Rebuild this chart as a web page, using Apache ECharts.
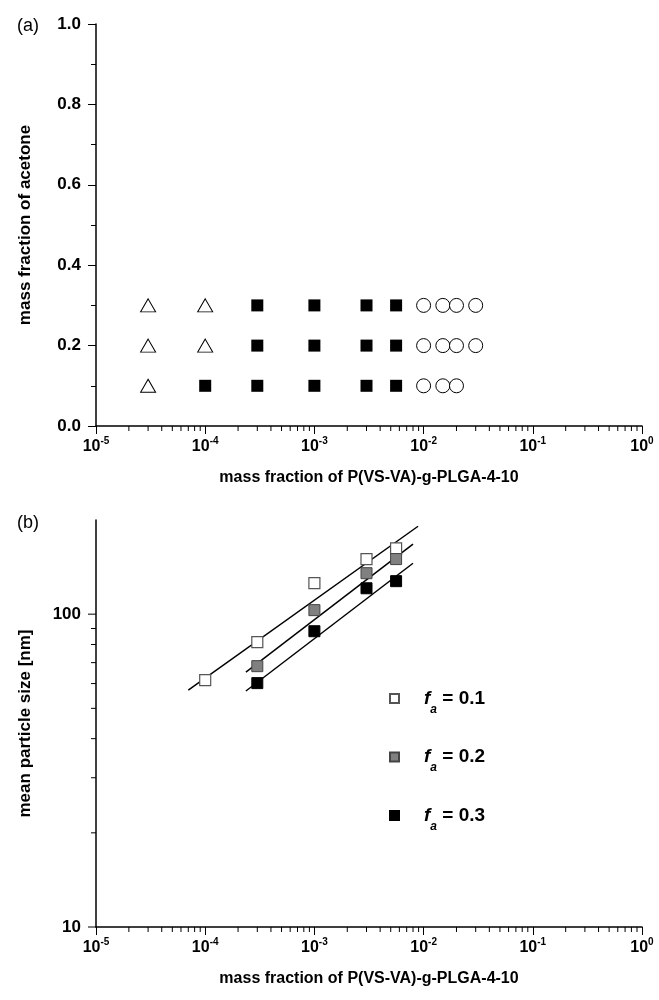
<!DOCTYPE html>
<html>
<head>
<meta charset="utf-8">
<script src="https://cdn.jsdelivr.net/npm/echarts@6/dist/echarts.min.js"></script>
<style>
  html, body { margin: 0; padding: 0; background: #fff; }
  #chart { width: 659px; height: 1000px; }
</style>
</head>
<body>
<div id="chart"></div>
<script>
// panel (a): phase map, [mass fraction polymer, mass fraction acetone]
const trianglePts = [[3e-5, 0.1], [3e-5, 0.2], [1e-4, 0.2], [3e-5, 0.3], [1e-4, 0.3]];
const squarePts = [
  [1e-4, 0.1], [3e-4, 0.1], [1e-3, 0.1], [3e-3, 0.1], [5.6e-3, 0.1],
  [3e-4, 0.2], [1e-3, 0.2], [3e-3, 0.2], [5.6e-3, 0.2],
  [3e-4, 0.3], [1e-3, 0.3], [3e-3, 0.3], [5.6e-3, 0.3]
];
const circlePts = [
  [1e-2, 0.1], [1.5e-2, 0.1], [2e-2, 0.1],
  [1e-2, 0.2], [1.5e-2, 0.2], [2e-2, 0.2], [3e-2, 0.2],
  [1e-2, 0.3], [1.5e-2, 0.3], [2e-2, 0.3], [3e-2, 0.3]
];

// panel (b): mean particle size [nm]
const massFa01 = [1e-4, 3e-4, 1e-3, 3e-3, 5.6e-3];
const size01 = [61.5, 81.4, 125.6, 149.9, 162.4];
const massFa = [3e-4, 1e-3, 3e-3, 5.6e-3];
const size02 = [68.2, 103, 135.2, 150];
const size03 = [60.2, 88.2, 121, 127.5];

// fitted lines (end points)
const fitX01 = [7e-5, 8.9e-3];
const fitY01 = [57.2, 191];
const fitX = [2.36e-4, 8.0e-3];
const fitY02 = [65.3, 167.4];
const fitY03 = [56.8, 145.5];

const legendNames = ['0.1', '0.2', '0.3'];

// log axis tick values
const minorX = [];
for (let d = -5; d < 0; d++) for (let k = 2; k <= 9; k++) minorX.push(k * Math.pow(10, d));
const majorY = [10, 100];
const minorY = [20, 30, 40, 50, 60, 70, 80, 90];

const FONT = 'Liberation Sans';
const zip = (xs, ys) => xs.map((x, i) => [x, ys[i]]);

const chart = echarts.init(document.getElementById('chart'));

const axisLine = { lineStyle: { color: '#000', width: 1.5 } };
const logLabel = {
  color: '#000',
  margin: 10,
  formatter: v => '{b|10}{s|' + Math.round(Math.log10(v)) + '}',
  rich: {
    b: { fontFamily: FONT, fontWeight: 'bold', fontSize: 16, lineHeight: 22, color: '#000' },
    s: { fontFamily: FONT, fontWeight: 'bold', fontSize: 10, lineHeight: 10, verticalAlign: 'top', color: '#000' }
  }
};
const nameStyle = { fontFamily: FONT, fontWeight: 'bold', fontSize: 16, color: '#000' };

function tickSeries(xi, yi, pts, vertical, len) {
  return {
    type: 'custom',
    xAxisIndex: xi,
    yAxisIndex: yi,
    silent: true,
    data: pts,
    renderItem: (params, api) => {
      const p = api.coord([api.value(0), api.value(1)]);
      const shape = vertical
        ? { x1: p[0], y1: p[1], x2: p[0], y2: p[1] + len }
        : { x1: p[0] - len, y1: p[1], x2: p[0], y2: p[1] };
      return { type: 'line', shape: shape, style: { stroke: '#000', lineWidth: 1 } };
    }
  };
}

function fitLine(xs, ys) {
  return {
    type: 'line', xAxisIndex: 1, yAxisIndex: 1, data: zip(xs, ys),
    symbol: 'none', silent: true,
    lineStyle: { color: '#000', width: 1.5 }, z: 1
  };
}

chart.setOption({
  animation: false,
  textStyle: { fontFamily: FONT },
  title: [
    { text: '(a)', left: 12, top: 12, textStyle: { fontFamily: FONT, fontWeight: 'normal', fontSize: 18, color: '#000' } },
    { text: '(b)', left: 12, top: 509, textStyle: { fontFamily: FONT, fontWeight: 'normal', fontSize: 18, color: '#000' } }
  ],
  grid: [
    { left: 96, right: 17, top: 24, height: 402 },
    { left: 96, right: 17, top: 520, height: 407 }
  ],
  legend: {
    data: legendNames,
    orient: 'vertical',
    left: 384,
    top: 684,
    itemGap: 32,
    itemWidth: 9,
    itemHeight: 9,
    icon: 'rect',
    formatter: n => '{f|f}{a|a}{t| = ' + n + '}',
    textStyle: {
      rich: {
        f: { fontFamily: FONT, fontWeight: 'bold', fontStyle: 'italic', fontSize: 19, color: '#000', padding: [0, 0, 0, 20], lineHeight: 22 },
        a: { fontFamily: FONT, fontWeight: 'bold', fontStyle: 'italic', fontSize: 12, color: '#000', verticalAlign: 'bottom', lineHeight: 12, padding: [0, 0, -6, 0] },
        t: { fontFamily: FONT, fontWeight: 'bold', fontSize: 19, color: '#000', lineHeight: 22 }
      }
    }
  },
  xAxis: [
    {
      type: 'log', gridIndex: 0, min: 1e-5, max: 1, logBase: 10,
      name: 'mass fraction of P(VS-VA)-g-PLGA-4-10', nameLocation: 'middle', nameGap: 44,
      nameTextStyle: nameStyle,
      axisLine: axisLine, axisTick: { length: 8, lineStyle: { color: '#000', width: 1 } },
      axisLabel: logLabel, splitLine: { show: false }
    },
    {
      type: 'log', gridIndex: 1, min: 1e-5, max: 1, logBase: 10,
      name: 'mass fraction of P(VS-VA)-g-PLGA-4-10', nameLocation: 'middle', nameGap: 44,
      nameTextStyle: nameStyle,
      axisLine: axisLine, axisTick: { length: 8, lineStyle: { color: '#000', width: 1 } },
      axisLabel: logLabel, splitLine: { show: false }
    }
  ],
  yAxis: [
    {
      type: 'value', gridIndex: 0, min: 0, max: 1, interval: 0.2,
      name: 'mass fraction of acetone', nameLocation: 'middle', nameGap: 62,
      nameTextStyle: Object.assign({}, nameStyle, { fontSize: 17 }),
      axisLine: { show: true, lineStyle: { color: '#000', width: 1.5 } },
      axisTick: { show: true, length: 8, lineStyle: { color: '#000', width: 1 } },
      minorTick: { show: true, splitNumber: 2, length: 5, lineStyle: { color: '#000', width: 1 } },
      axisLabel: { color: '#000', fontFamily: FONT, fontWeight: 'bold', fontSize: 17, margin: 15, formatter: v => v.toFixed(1) },
      splitLine: { show: false }
    },
    {
      type: 'log', gridIndex: 1, min: 10, max: 200, logBase: 10,
      name: 'mean particle size [nm]', nameLocation: 'middle', nameGap: 62,
      nameTextStyle: Object.assign({}, nameStyle, { fontSize: 17 }),
      axisLine: { show: true, lineStyle: { color: '#000', width: 1.5 } },
      axisTick: { show: false },
      axisLabel: {
        color: '#000', fontFamily: FONT, fontWeight: 'bold', fontSize: 17, margin: 15,
        formatter: v => (Math.abs(Math.log10(v) - Math.round(Math.log10(v))) < 1e-6 ? String(Math.round(v)) : '')
      },
      splitLine: { show: false }
    }
  ],
  series: [
    {
      name: 'triangle', type: 'scatter', xAxisIndex: 0, yAxisIndex: 0, data: trianglePts,
      symbol: 'triangle', symbolSize: [15, 13],
      itemStyle: { color: '#fff', borderColor: '#000', borderWidth: 1, opacity: 1 }
    },
    {
      name: 'square', type: 'scatter', xAxisIndex: 0, yAxisIndex: 0, data: squarePts,
      symbol: 'rect', symbolSize: 12, itemStyle: { color: '#000', opacity: 1 }
    },
    {
      name: 'circle', type: 'scatter', xAxisIndex: 0, yAxisIndex: 0, data: circlePts,
      symbol: 'circle', symbolSize: 14,
      itemStyle: { color: '#fff', borderColor: '#000', borderWidth: 1, opacity: 1 }
    },
    fitLine(fitX01, fitY01),
    fitLine(fitX, fitY02),
    fitLine(fitX, fitY03),
    {
      name: '0.1', type: 'scatter', xAxisIndex: 1, yAxisIndex: 1, data: zip(massFa01, size01),
      symbol: 'rect', symbolSize: 11, z: 3,
      itemStyle: { color: '#fff', borderColor: '#555', borderWidth: 1.2, opacity: 1 }
    },
    {
      name: '0.2', type: 'scatter', xAxisIndex: 1, yAxisIndex: 1, data: zip(massFa, size02),
      symbol: 'rect', symbolSize: 11, z: 3,
      itemStyle: { color: '#808080', borderColor: '#444', borderWidth: 1, opacity: 1 }
    },
    {
      name: '0.3', type: 'scatter', xAxisIndex: 1, yAxisIndex: 1, data: zip(massFa, size03),
      symbol: 'rect', symbolSize: 11, z: 3,
      itemStyle: { color: '#000', borderColor: '#000', borderWidth: 1, opacity: 1 }
    },
    tickSeries(0, 0, minorX.map(v => [v, 0]), true, 5),
    tickSeries(1, 1, minorX.map(v => [v, 10]), true, 5),
    tickSeries(1, 1, majorY.map(v => [1e-5, v]), false, 8),
    tickSeries(1, 1, minorY.map(v => [1e-5, v]), false, 5)
  ]
});
</script>
</body>
</html>
